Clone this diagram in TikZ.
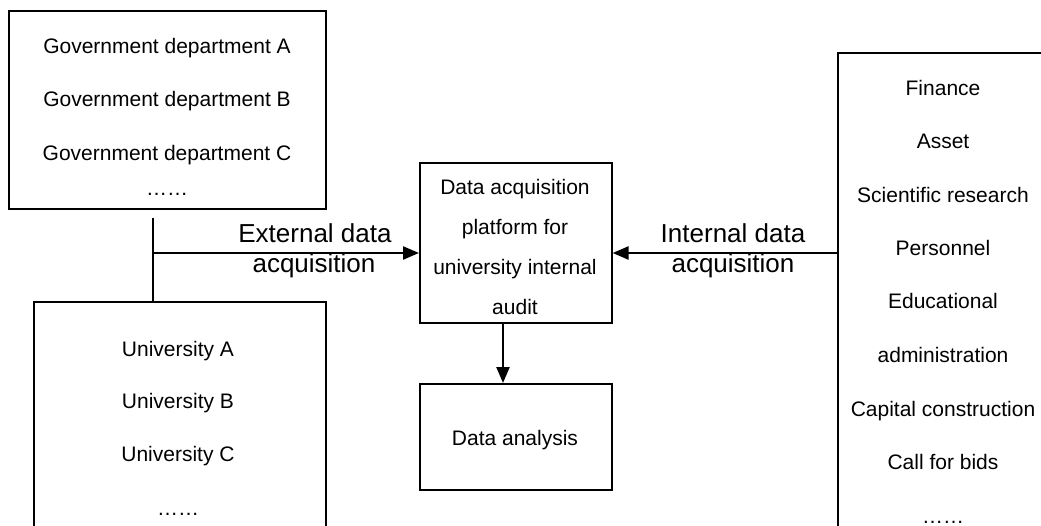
\documentclass[tikz,border=0pt]{standalone}
\usepackage{fontspec}
\setmainfont{Liberation Sans}
\usetikzlibrary{arrows.meta}
\begin{document}
\begin{tikzpicture}[x=1pt,y=-1pt,
  box/.style={draw, line width=1.6pt, inner sep=0pt, anchor=north west},
  txt/.style={anchor=base, inner sep=0pt, font=\fontsize{21}{25}\selectfont},
  lbl/.style={anchor=base, inner sep=0pt, font=\fontsize{26}{30}\selectfont},
  conn/.style={line width=2.4pt},
  arr/.style={line width=2.4pt, -{Triangle[length=16pt,width=13pt]}}]
\clip (0,0) rectangle (1041,526);
\fill[white] (0,0) rectangle (1041,526);
% boxes
\node[box, minimum width=317pt, minimum height=198pt] (gov) at (8,10) {};
\node[box, minimum width=292pt, minimum height=260pt] (uni) at (33,301) {};
\node[box, minimum width=192pt, minimum height=160pt] (central) at (419,162) {};
\node[box, minimum width=192pt, minimum height=106pt] (analysis) at (419,383) {};
\node[box, minimum width=240pt, minimum height=520pt] (internal) at (837,52) {};
% government texts
\node[txt] (g1) at (167,54) {Government department A};
\node[txt] (g2) at (167,107) {Government department B};
\node[txt] (g3) at (167,160.5) {Government department C};
\node[txt] (g4) at (167,196) {……};
% university texts
\node[txt] (u1) at (178,356) {University A};
\node[txt] (u2) at (178,408) {University B};
\node[txt] (u3) at (178,461.5) {University C};
\node[txt] (u4) at (178,515) {……};
% central texts
\node[txt] (c1) at (515,195) {Data acquisition};
\node[txt] (c2) at (515,235) {platform for};
\node[txt] (c3) at (515,275) {university internal};
\node[txt] (c4) at (515,315) {audit};
\node[txt] (a1) at (515,445) {Data analysis};
% internal texts
\node[txt] (i1) at (943,96) {Finance};
\node[txt] (i2) at (943,149) {Asset};
\node[txt] (i3) at (943,202.5) {Scientific research};
\node[txt] (i4) at (943,256) {Personnel};
\node[txt] (i5) at (943,309) {Educational};
\node[txt] (i6) at (943,362.5) {administration};
\node[txt] (i7) at (943,416) {Capital construction};
\node[txt] (i8) at (943,469) {Call for bids};
\node[txt] (i9) at (943,523) {……};
% labels
\node[lbl] (e1) at (315,243) {External data};
\node[lbl] (e2) at (314,273) {acquisition};
\node[lbl] (n1) at (733,243) {Internal data};
\node[lbl] (n2) at (733,273) {acquisition};
% connectors
\coordinate (vtop) at (153,218);
\coordinate (hstart) at (152,253);
\coordinate (dx) at (503,0);
\draw[conn] (vtop) -- (vtop |- uni.north);
\draw[arr] (hstart) -- (central.west |- hstart);
\draw[arr] (internal.west |- hstart) -- (central.east |- hstart);
\draw[arr] (central.south -| dx) -- (analysis.north -| dx);
\end{tikzpicture}
\end{document}
